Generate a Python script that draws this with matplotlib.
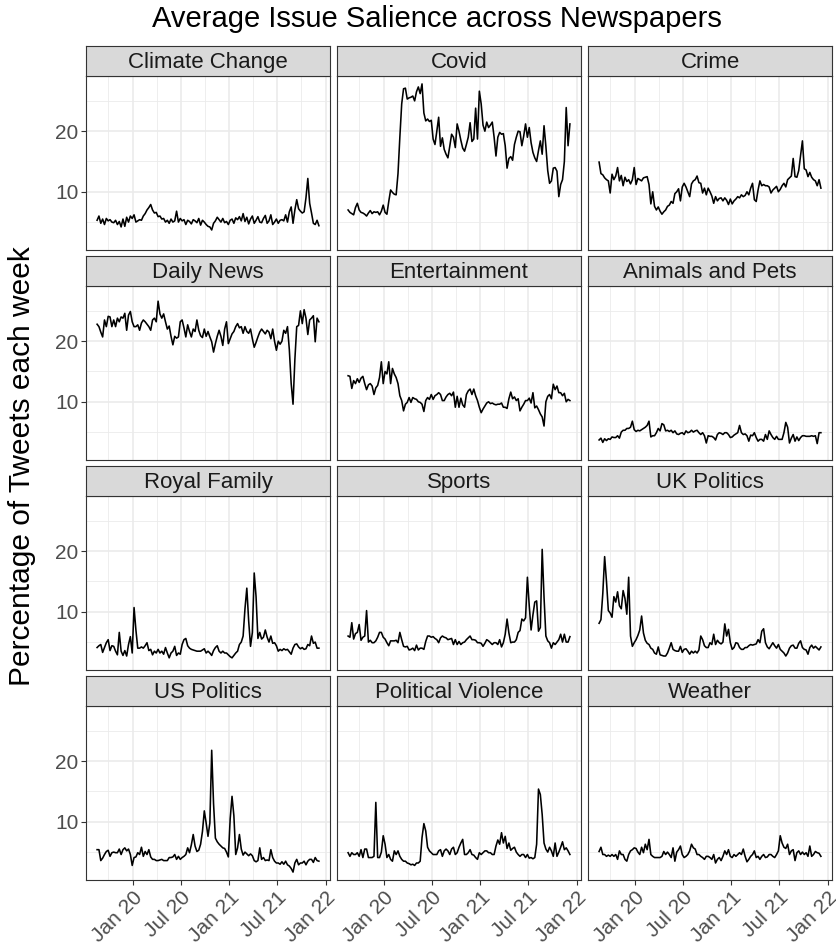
import numpy as np
import pandas as pd
import matplotlib
matplotlib.use("Agg")
import matplotlib.pyplot as plt
import matplotlib.dates as mdates

plt.rcParams['font.family'] = ['Liberation Sans', 'DejaVu Sans']

# weekly data, Aug 2019 - Dec 2021
weeks = pd.date_range('2019-08-19', periods=121, freq='7D')

topics = ['Climate Change', 'Covid', 'Crime',
          'Daily News', 'Entertainment', 'Animals and Pets',
          'Royal Family', 'Sports', 'UK Politics',
          'US Politics', 'Political Violence', 'Weather']

climate_change = [5.3, 6.0, 4.8, 5.5, 4.6, 5.6, 5.2, 5.4, 5.0, 4.9,
                  5.3, 4.6, 5.1, 4.2, 5.5, 4.3, 5.8, 5.0, 6.0, 5.6,
                  6.2, 5.0, 5.2, 5.4, 5.3, 6.0, 6.4, 7.0, 7.4, 7.9,
                  7.0, 6.5, 6.6, 5.9, 6.0, 5.5, 5.6, 5.0, 5.3, 4.8,
                  5.5, 5.0, 5.2, 6.8, 5.0, 5.6, 5.2, 5.4, 4.6, 5.3,
                  5.1, 4.7, 5.4, 5.2, 4.9, 5.6, 4.5, 5.3, 5.0, 4.6,
                  4.3, 4.2, 3.7, 4.8, 5.2, 5.8, 5.4, 5.0, 5.6, 4.9,
                  5.1, 4.6, 5.3, 5.5, 4.8, 5.7, 5.4, 5.9, 5.2, 6.4,
                  5.1, 5.8, 4.7, 5.5, 6.0, 4.8, 5.3, 5.9, 5.0, 4.9,
                  5.6, 6.1, 4.8, 5.2, 6.2, 4.6, 5.0, 5.5, 4.8, 5.3,
                  5.4, 5.2, 6.2, 5.0, 6.7, 7.5, 4.8, 7.0, 8.7, 7.2,
                  6.8, 6.5, 6.7, 9.0, 12.2, 8.1, 6.5, 4.8, 4.6, 5.3,
                  4.4]
covid = [7.0, 6.6, 6.4, 6.2, 7.4, 8.1, 7.0, 6.6, 6.5, 6.3,
         6.0, 6.5, 6.9, 6.4, 6.7, 6.6, 6.7, 6.2, 6.8, 7.8,
         6.6, 6.3, 8.4, 10.3, 9.9, 9.6, 9.5, 13.0, 19.0, 24.5,
         27.0, 27.1, 25.3, 25.5, 25.6, 25.8, 25.0, 26.5, 27.3, 26.2,
         27.8, 23.0, 21.7, 22.0, 21.6, 21.8, 18.7, 17.8, 20.0, 22.3,
         17.5, 18.9, 17.0, 16.2, 15.6, 17.5, 19.5, 19.0, 17.3, 21.2,
         20.0, 18.5, 17.2, 16.7, 17.8, 19.0, 21.4, 18.3, 18.7, 23.8,
         18.7, 26.6, 24.5, 21.0, 20.0, 21.5, 20.6, 21.0, 21.5, 19.0,
         15.9, 19.0, 19.8, 19.5, 19.6, 17.6, 13.9, 15.5, 15.8, 15.2,
         17.8, 19.0, 20.0, 19.9, 17.6, 19.2, 21.2, 19.0, 20.6, 18.1,
         16.5, 15.6, 15.0, 16.8, 18.4, 16.2, 20.9, 17.5, 13.5, 11.4,
         11.8, 13.9, 14.0, 13.4, 9.2, 11.2, 12.0, 15.0, 23.9, 17.6,
         21.2]
crime = [14.9, 13.0, 12.8, 12.3, 12.0, 11.8, 9.8, 12.9, 12.0, 12.6,
         14.0, 11.8, 12.7, 11.0, 12.4, 11.7, 12.0, 11.3, 12.0, 14.0,
         11.2, 12.2, 12.0, 11.8, 12.3, 12.4, 12.5, 11.2, 8.0, 10.0,
         7.6, 7.0, 7.5, 6.8, 6.3, 6.7, 7.0, 7.6, 7.8, 8.4,
         8.1, 9.7, 10.0, 10.5, 8.5, 10.8, 11.4, 10.8, 10.0, 9.2,
         11.3, 11.8, 12.0, 12.6, 11.5, 11.4, 9.8, 10.6, 9.5, 10.6,
         10.0, 9.3, 8.1, 9.2, 8.5, 8.9, 9.0, 8.5, 9.0, 8.6,
         7.9, 8.8, 8.0, 8.5, 8.8, 9.2, 9.0, 9.5, 9.2, 9.4,
         10.0, 9.5, 10.6, 11.4, 8.7, 8.4, 10.3, 11.8, 11.0, 11.2,
         11.0, 11.0, 10.8, 9.8, 10.3, 10.6, 10.9, 10.0, 10.4, 11.0,
         11.4, 10.8, 12.0, 12.3, 12.6, 15.5, 12.5, 12.4, 13.5, 16.0,
         18.4, 13.8, 13.6, 12.5, 13.2, 12.4, 12.0, 11.8, 11.0, 12.0,
         10.6]
daily_news = [22.8, 22.4, 21.5, 20.7, 23.5, 22.4, 24.1, 24.0, 22.4, 23.5,
              22.4, 23.8, 23.2, 24.0, 23.8, 24.6, 21.8, 24.3, 24.9, 23.2,
              22.4, 22.4, 22.7, 21.8, 23.0, 23.5, 23.2, 22.8, 22.4, 21.8,
              23.5, 23.8, 23.2, 26.6, 24.5, 23.8, 24.5, 23.2, 22.0, 22.5,
              20.8, 19.4, 20.8, 20.5, 20.7, 23.2, 23.5, 22.2, 20.7, 22.7,
              21.6, 20.7, 22.0, 21.6, 23.5, 21.8, 20.9, 20.6, 22.0, 20.8,
              21.6, 20.7, 19.9, 18.2, 19.6, 20.8, 21.8, 20.8, 19.3, 22.0,
              23.2, 19.6, 20.4, 21.2, 21.6, 22.4, 22.9, 22.2, 22.4, 21.3,
              22.4, 21.6, 21.3, 22.0, 20.4, 19.0, 19.8, 20.7, 21.5, 22.0,
              21.6, 21.2, 21.8, 21.5, 20.4, 22.0, 20.0, 18.5, 20.0, 19.5,
              20.0, 21.8, 21.3, 22.4, 18.6, 13.0, 9.6, 17.0, 22.4, 22.6,
              25.0, 22.9, 25.2, 23.8, 21.1, 23.5, 23.8, 24.2, 19.9, 23.8,
              23.2]
entertainment = [14.3, 14.2, 12.2, 13.5, 13.0, 13.8, 13.2, 13.9, 14.2, 13.0,
                 12.0, 12.8, 13.0, 12.6, 11.2, 12.3, 12.7, 14.0, 16.6, 13.0,
                 15.0, 14.6, 16.6, 13.0, 15.5, 14.6, 14.0, 13.0, 11.0, 10.2,
                 8.5, 9.6, 9.9, 10.7, 9.9, 10.7, 10.5, 10.4, 10.0, 9.9,
                 9.6, 8.4, 10.2, 10.7, 10.4, 11.2, 10.4, 11.0, 11.2, 11.5,
                 11.2, 10.2, 10.2, 10.8, 11.2, 11.4, 11.0, 11.6, 9.1, 10.9,
                 9.1, 10.6, 9.5, 9.1, 11.2, 11.8, 12.1, 11.2, 12.1, 11.0,
                 10.2, 9.1, 8.2, 8.8, 9.3, 9.8, 10.0, 9.7, 9.8, 9.6,
                 9.5, 9.6, 9.6, 9.8, 9.1, 9.1, 8.9, 10.5, 11.6, 10.5,
                 10.8, 10.2, 10.5, 8.5, 9.1, 9.6, 10.2, 10.2, 10.6, 9.8,
                 11.5, 9.0, 9.3, 8.7, 8.0, 7.5, 6.0, 10.0, 10.9, 11.2,
                 10.5, 12.9, 12.0, 12.6, 11.5, 11.5, 11.0, 11.4, 10.0, 10.4,
                 10.2]
animals_pets = [3.7, 4.0, 3.3, 3.9, 3.6, 3.9, 3.8, 4.2, 4.1, 4.1,
                4.4, 4.0, 5.0, 5.3, 5.3, 5.6, 5.6, 5.8, 6.8, 5.4,
                5.1, 5.3, 5.2, 5.4, 5.6, 5.8, 6.1, 6.8, 4.2, 4.4,
                4.4, 4.9, 5.6, 5.2, 6.4, 6.2, 5.2, 5.3, 5.1, 5.3,
                4.9, 5.2, 4.7, 4.6, 4.8, 4.9, 4.6, 5.2, 4.9, 5.0,
                5.3, 5.0, 5.2, 5.3, 4.9, 4.6, 4.9, 4.4, 3.2, 4.4,
                4.3, 4.3, 4.1, 3.7, 4.6, 4.9, 4.8, 4.6, 4.9, 4.9,
                4.6, 4.1, 4.2, 4.5, 4.7, 4.9, 6.1, 4.9, 4.6, 4.7,
                4.4, 3.5, 4.5, 4.4, 4.9, 4.1, 3.5, 3.8, 3.8, 3.5,
                4.6, 3.8, 5.2, 4.6, 4.1, 3.8, 4.3, 3.8, 3.8, 3.8,
                4.9, 6.6, 5.8, 3.2, 4.0, 4.6, 3.5, 4.2, 3.6, 4.1,
                4.4, 4.4, 4.3, 4.3, 4.3, 4.4, 4.3, 4.4, 3.1, 4.9,
                4.9]
royal_family = [4.1, 4.4, 4.6, 3.3, 4.1, 4.9, 5.4, 3.6, 4.4, 4.3,
                3.5, 2.9, 6.6, 3.5, 2.8, 3.6, 2.7, 4.6, 5.9, 3.2,
                10.7, 7.0, 4.0, 4.0, 4.2, 4.0, 4.4, 4.9, 3.6, 3.8,
                2.9, 3.5, 3.2, 3.8, 3.2, 3.5, 3.0, 4.1, 3.2, 2.4,
                3.2, 3.5, 4.3, 2.8, 3.2, 3.0, 4.6, 5.4, 5.6, 4.4,
                4.0, 3.8, 3.7, 3.6, 3.5, 3.5, 3.5, 3.7, 3.9, 3.2,
                3.5, 3.2, 2.8, 3.6, 4.1, 4.4, 3.5, 3.2, 3.5, 3.2,
                3.2, 2.9, 2.6, 2.4, 2.8, 3.2, 3.5, 4.6, 5.0, 6.0,
                10.5, 13.9, 8.5, 4.3, 6.6, 16.4, 12.5, 5.6, 6.6, 5.5,
                5.8, 7.0, 5.8, 5.0, 6.0, 4.8, 4.9, 4.4, 3.5, 3.8,
                3.6, 3.9, 3.7, 3.8, 3.4, 3.0, 4.0, 4.6, 4.7, 4.2,
                3.9, 4.1, 3.8, 3.9, 4.6, 4.4, 6.0, 4.8, 5.0, 4.0,
                4.0]
sports = [6.0, 5.8, 8.2, 5.5, 6.4, 6.6, 7.9, 5.3, 5.8, 6.0,
          10.2, 5.0, 5.3, 4.9, 4.9, 5.2, 5.8, 6.6, 6.6, 5.8,
          5.5, 4.9, 4.4, 5.2, 5.2, 5.2, 5.3, 4.9, 6.6, 5.4,
          4.3, 4.2, 4.3, 3.7, 3.8, 4.0, 3.6, 4.5, 3.7, 4.0,
          4.0, 3.8, 5.1, 6.0, 6.0, 5.8, 5.9, 5.6, 5.4, 4.9,
          5.7, 6.0, 5.8, 5.7, 5.4, 5.5, 5.6, 4.6, 5.4, 4.6,
          5.1, 4.6, 4.9, 5.0, 5.4, 5.7, 6.0, 5.4, 5.4, 5.3,
          4.9, 4.9, 4.8, 4.3, 4.8, 5.4, 5.2, 4.9, 4.6, 4.9,
          4.9, 4.6, 5.4, 4.2, 4.9, 6.3, 8.8, 6.5, 4.9, 5.0,
          5.0, 5.4, 6.6, 6.9, 8.8, 8.5, 9.0, 15.7, 11.0, 7.0,
          9.5, 11.6, 11.8, 6.8, 7.4, 20.3, 12.4, 6.0, 5.2, 4.9,
          4.0, 4.9, 4.6, 5.0, 5.4, 6.3, 5.0, 6.3, 5.0, 5.0,
          5.9]
uk_politics = [8.1, 8.7, 13.0, 19.1, 15.0, 10.2, 9.8, 9.1, 12.5, 11.6,
               13.3, 11.0, 10.5, 13.5, 12.2, 9.6, 15.7, 6.0, 4.3, 4.9,
               5.4, 6.1, 7.0, 9.3, 6.5, 5.3, 4.8, 4.6, 4.0, 3.8,
               3.2, 3.0, 4.2, 2.9, 2.8, 2.7, 2.7, 3.2, 4.0, 4.9,
               3.8, 3.6, 3.5, 3.5, 4.3, 3.3, 3.8, 3.9, 3.5, 3.0,
               3.5, 3.2, 3.5, 3.2, 3.7, 6.0, 5.4, 4.4, 4.1, 4.1,
               4.9, 4.6, 6.3, 4.6, 5.3, 4.9, 4.7, 5.0, 8.0, 6.0,
               7.1, 4.9, 3.8, 4.1, 4.9, 4.8, 4.1, 3.8, 3.8, 4.1,
               4.1, 4.4, 4.6, 4.5, 4.6, 4.7, 5.4, 4.9, 6.8, 7.2,
               4.9, 4.2, 3.9, 4.4, 4.9, 4.4, 4.0, 4.6, 3.8, 3.5,
               3.2, 2.7, 3.2, 4.0, 4.4, 4.5, 4.0, 4.0, 4.8, 5.2,
               4.1, 3.8, 3.7, 3.0, 4.1, 4.5, 4.0, 4.3, 4.0, 3.7,
               4.2]
us_politics = [5.4, 5.4, 3.6, 4.0, 4.6, 5.1, 5.3, 4.3, 4.9, 5.0,
               4.9, 4.9, 5.5, 4.6, 5.4, 5.7, 5.2, 5.5, 4.6, 2.8,
               4.1, 4.2, 4.9, 4.6, 5.8, 4.3, 5.1, 4.6, 5.4, 4.2,
               3.8, 3.8, 3.6, 3.6, 3.7, 3.8, 3.6, 3.6, 3.6, 4.1,
               4.1, 4.2, 4.6, 3.8, 4.3, 3.8, 4.1, 4.3, 4.6, 5.7,
               4.9, 6.2, 7.9, 6.0, 5.1, 5.3, 6.3, 8.4, 11.8, 9.8,
               7.6, 9.8, 21.8, 13.0, 7.3, 6.7, 6.3, 6.0, 5.7, 5.6,
               5.0, 4.2, 10.5, 14.2, 11.0, 4.6, 5.7, 7.9, 5.5, 4.5,
               5.0, 4.7, 4.4, 4.7, 4.4, 3.6, 3.4, 3.6, 5.7, 3.8,
               4.1, 3.6, 3.7, 3.6, 5.4, 4.1, 3.5, 3.2, 3.2, 3.0,
               3.4, 3.0, 3.5, 2.9, 2.7, 2.3, 1.7, 3.2, 3.8, 2.9,
               3.2, 3.2, 3.5, 2.9, 3.5, 3.8, 3.8, 3.3, 4.1, 3.6,
               3.5]
political_violence = [4.9, 4.3, 4.9, 4.6, 4.6, 4.9, 4.3, 5.4, 4.1, 5.5,
                      5.5, 4.1, 4.1, 4.1, 4.3, 13.2, 4.1, 4.1, 5.0, 7.7,
                      6.3, 4.1, 4.6, 3.8, 3.5, 5.2, 4.6, 5.2, 4.3, 3.8,
                      3.5, 3.5, 3.2, 3.1, 2.9, 3.0, 2.8, 3.2, 3.2, 3.5,
                      7.4, 9.7, 8.5, 5.8, 5.2, 4.9, 4.6, 4.6, 4.6, 5.2,
                      5.4, 4.3, 5.2, 5.5, 5.2, 4.6, 5.5, 5.8, 4.6, 4.9,
                      5.8, 6.5, 7.1, 4.6, 4.6, 4.9, 5.4, 4.6, 4.5, 4.1,
                      3.8, 4.9, 4.6, 4.9, 5.2, 5.2, 4.9, 4.9, 4.6, 4.6,
                      6.0, 7.0, 6.3, 8.2, 6.5, 7.6, 5.6, 6.5, 5.3, 5.6,
                      5.8, 5.0, 4.6, 4.3, 4.6, 4.6, 4.1, 4.6, 4.0, 4.1,
                      3.9, 4.1, 6.3, 15.4, 14.5, 11.2, 6.5, 5.5, 5.0, 5.8,
                      5.2, 4.3, 6.5, 4.3, 5.0, 5.8, 6.7, 5.4, 5.7, 5.2,
                      4.6]
weather = [5.1, 5.8, 4.6, 4.6, 4.3, 4.5, 4.3, 4.6, 4.3, 4.6,
           3.8, 5.2, 4.6, 4.6, 3.8, 3.5, 4.6, 5.2, 5.4, 5.7,
           5.6, 5.0, 4.6, 5.8, 4.9, 6.3, 5.4, 7.1, 4.6, 4.3,
           4.1, 4.1, 4.1, 4.1, 4.3, 5.1, 4.6, 5.0, 4.6, 4.1,
           5.7, 3.5, 5.0, 5.4, 6.0, 4.6, 4.1, 4.3, 4.6, 5.2,
           6.3, 5.7, 5.5, 4.6, 4.6, 4.3, 4.1, 3.8, 4.3, 4.3,
           4.1, 3.8, 4.6, 3.2, 3.8, 4.1, 3.6, 4.3, 5.2, 4.6,
           5.4, 4.3, 4.1, 4.6, 4.3, 4.6, 4.9, 4.6, 5.5, 4.3,
           3.4, 3.8, 4.3, 4.6, 5.2, 4.1, 4.3, 3.8, 4.3, 4.6,
           4.1, 4.2, 4.6, 4.6, 4.3, 4.1, 4.6, 5.2, 7.7, 6.5,
           5.8, 5.6, 6.3, 4.6, 5.2, 5.4, 3.6, 4.9, 5.2, 4.6,
           5.0, 4.6, 4.9, 4.3, 6.0, 4.3, 4.6, 5.1, 4.9, 4.8,
           4.3]

series = [climate_change, covid, crime,
          daily_news, entertainment, animals_pets,
          royal_family, sports, uk_politics,
          us_politics, political_violence, weather]

W, H = 836, 944
fig = plt.figure(figsize=(W / 100, H / 100), dpi=100)

# shared scales with ggplot-like 5% expansion
all_vals = np.concatenate([np.array(s) for s in series])
ylo, yhi = all_vals.min(), all_vals.max()
ypad = 0.05 * (yhi - ylo)
xnum = mdates.date2num(weeks)
xpad = 0.05 * (xnum[-1] - xnum[0])

col_left = [86, 337, 588]
panel_w = 244
strip_top = [46, 256, 466, 676]
strip_h = 30
panel_h = 174

def fig_rect(x, y, w, h):
    return [x / W, 1 - (y + h) / H, w / W, h / H]

for k, (name, vals) in enumerate(zip(topics, series)):
    r, c = divmod(k, 3)
    x0 = col_left[c]
    ytop = strip_top[r] + strip_h

    ax = fig.add_axes(fig_rect(x0, ytop, panel_w, panel_h))
    ax.plot(weeks, vals, color='black', lw=1.15)
    ax.set_xlim(xnum[0] - xpad, xnum[-1] + xpad)
    ax.set_ylim(ylo - ypad, yhi + ypad)
    ax.set_yticks([10, 20])
    ax.set_yticks([5, 15, 25], minor=True)
    ax.xaxis.set_major_locator(mdates.MonthLocator(bymonth=[1, 7]))
    ax.xaxis.set_minor_locator(mdates.MonthLocator(bymonth=[4, 10]))
    ax.xaxis.set_major_formatter(mdates.DateFormatter('%b %y'))
    ax.grid(which='major', color='#EBEBEB', lw=1.2)
    ax.grid(which='minor', color='#EBEBEB', lw=0.6)
    ax.set_axisbelow(True)
    for sp in ax.spines.values():
        sp.set_color('#333333')
        sp.set_linewidth(0.8)
    ax.tick_params(which='minor', length=0)
    ax.tick_params(which='major', length=3.5, width=0.8, color='#333333',
                   labelcolor='#4D4D4D', labelsize=15, pad=2)
    if c != 0:
        ax.tick_params(axis='y', which='major', left=False, labelleft=False)
    if r != 3:
        ax.tick_params(axis='x', which='major', bottom=False, labelbottom=False)
    else:
        for lab in ax.get_xticklabels():
            lab.set_rotation(45)
            lab.set_ha('right')
            lab.set_rotation_mode('anchor')

    sax = fig.add_axes(fig_rect(x0, strip_top[r], panel_w, strip_h))
    sax.set_facecolor('#D9D9D9')
    sax.set_xticks([])
    sax.set_yticks([])
    for sp in sax.spines.values():
        sp.set_color('#333333')
        sp.set_linewidth(0.8)
    sax.text(0.5, 0.45, name, ha='center', va='center', fontsize=16,
             color='#1A1A1A', transform=sax.transAxes)

fig.text(437 / W, 1 - 19 / H, 'Average Issue Salience across Newspapers',
         ha='center', va='center', fontsize=21, color='black')
fig.text(22 / W, 1 - 466 / H, 'Percentage of Tweets each week',
         ha='center', va='center', rotation=90, fontsize=21.5, color='black')

fig.savefig('out.png', dpi=100)
